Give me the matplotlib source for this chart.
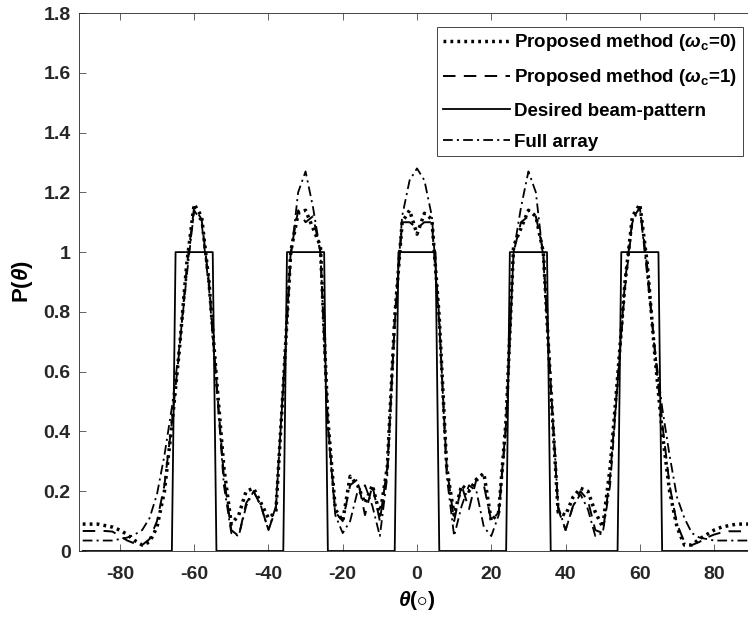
import numpy as np
import matplotlib
matplotlib.use("Agg")
import matplotlib.pyplot as plt
from matplotlib.ticker import FormatStrFormatter

# look-up angles (deg) for the read-off curves, 2 deg spacing
theta = np.arange(-90, 91, 2)

# proposed method, omega_c = 0 (dotted)
p_wc0 = [0.09, 0.09, 0.09, 0.085, 0.08, 0.07, 0.055, 0.035, 0.02, 0.03,
         0.08, 0.20, 0.42, 0.67, 0.96, 1.16, 1.12, 0.90, 0.58, 0.28,
         0.09, 0.12, 0.20, 0.21, 0.16, 0.11, 0.13, 0.55, 1.0, 1.13,
         1.14, 1.08, 1.02, 0.44, 0.14, 0.10, 0.25, 0.22, 0.16, 0.22,
         0.12, 0.28, 0.78, 1.10, 1.14, 1.06, 1.13, 1.11, 0.78, 0.28,
         0.12, 0.22, 0.20, 0.24, 0.26, 0.10, 0.13, 0.44, 1.02, 1.08,
         1.14, 1.12, 1.0, 0.55, 0.13, 0.12, 0.18, 0.21, 0.20, 0.13,
         0.08, 0.28, 0.58, 0.90, 1.12, 1.16, 0.96, 0.66, 0.40, 0.20,
         0.08, 0.02, 0.02, 0.04, 0.055, 0.07, 0.08, 0.085, 0.09, 0.09,
         0.09]

# proposed method, omega_c = 1 (dashed)
p_wc1 = [0.067, 0.067, 0.067, 0.067, 0.065, 0.05, 0.035, 0.025, 0.02, 0.04,
         0.10, 0.22, 0.43, 0.67, 0.95, 1.15, 1.11, 0.90, 0.57, 0.25,
         0.07, 0.05, 0.16, 0.20, 0.15, 0.07, 0.14, 0.56, 1.0, 1.14,
         1.10, 1.12, 1.0, 0.43, 0.13, 0.10, 0.22, 0.24, 0.12, 0.22,
         0.10, 0.28, 0.76, 1.10, 1.10, 1.08, 1.10, 1.10, 0.76, 0.28,
         0.10, 0.22, 0.14, 0.24, 0.22, 0.10, 0.13, 0.43, 1.0, 1.10,
         1.12, 1.12, 1.0, 0.56, 0.14, 0.07, 0.15, 0.20, 0.17, 0.07,
         0.06, 0.25, 0.57, 0.90, 1.11, 1.15, 0.95, 0.67, 0.43, 0.22,
         0.09, 0.03, 0.02, 0.03, 0.045, 0.055, 0.062, 0.066, 0.066, 0.066,
         0.066]

# full array (dash-dot)
p_full = [0.035, 0.035, 0.035, 0.035, 0.035, 0.04, 0.045, 0.055, 0.07, 0.11,
          0.19, 0.32, 0.48, 0.68, 0.92, 1.14, 1.10, 0.88, 0.56, 0.22,
          0.06, 0.05, 0.15, 0.20, 0.15, 0.07, 0.15, 0.55, 0.98, 1.20,
          1.27, 1.15, 1.0, 0.42, 0.12, 0.06, 0.10, 0.20, 0.22, 0.15,
          0.05, 0.25, 0.78, 1.12, 1.24, 1.28, 1.24, 1.12, 0.78, 0.25,
          0.05, 0.15, 0.22, 0.20, 0.08, 0.05, 0.12, 0.42, 1.0, 1.15,
          1.27, 1.20, 0.98, 0.55, 0.15, 0.07, 0.15, 0.19, 0.14, 0.05,
          0.06, 0.22, 0.56, 0.88, 1.10, 1.15, 0.92, 0.68, 0.48, 0.32,
          0.18, 0.11, 0.06, 0.045, 0.04, 0.035, 0.035, 0.035, 0.035, 0.035,
          0.035]

# desired beam-pattern: unit gain inside these sectors (1 deg grid)
beam_lo = [-65, -35, -5, 25, 55]
beam_hi = [-55, -25, 5, 35, 65]
theta_d = np.arange(-90, 91, 1)
desired = np.zeros(len(theta_d))
for lo, hi in zip(beam_lo, beam_hi):
    desired[(theta_d >= lo) & (theta_d <= hi)] = 1.0

plt.rcParams['font.family'] = ['Liberation Sans', 'DejaVu Sans']
plt.rcParams['font.weight'] = 'bold'
plt.rcParams['font.size'] = 14
plt.rcParams['axes.unicode_minus'] = False
plt.rcParams['mathtext.fontset'] = 'custom'
plt.rcParams['mathtext.it'] = 'Liberation Sans:italic:bold'
plt.rcParams['mathtext.rm'] = 'Liberation Sans:bold'
plt.rcParams['mathtext.bf'] = 'Liberation Sans:bold'
plt.rcParams['mathtext.sf'] = 'Liberation Sans:bold'
plt.rcParams['lines.scale_dashes'] = False

gray = '#262626'

fig = plt.figure(figsize=(7.48, 6.21), dpi=100)
ax = fig.add_axes([79 / 748, 70 / 621, 676 / 748, 538 / 621])

ax.plot(theta, p_wc0, color='k', lw=2.5, linestyle=(0, (2.0, 3.0)),
        label=r'Proposed method ($\omega_\mathrm{c}$=0)')
ax.plot(theta, p_wc1, color='k', lw=1.4, linestyle=(0, (9.0, 6.0)),
        label=r'Proposed method ($\omega_\mathrm{c}$=1)')
ax.plot(theta_d, desired, color='k', lw=1.3, linestyle='-',
        label='Desired beam-pattern')
ax.plot(theta, p_full, color='k', lw=1.3, linestyle=(0, (7.0, 3.0, 1.5, 3.0)),
        label='Full array')

ax.set_xlim(-91, 91)
ax.set_ylim(0, 1.8)
ax.set_xticks(np.arange(-80, 81, 20))
ax.set_yticks(np.arange(0, 1.81, 0.2))
ax.yaxis.set_major_formatter(FormatStrFormatter('%g'))

ax.tick_params(direction='in', top=True, right=True, length=5, width=0.5,
               colors=gray, labelsize=14)
ax.tick_params(axis='x', pad=11)
ax.tick_params(axis='y', pad=6)
for s in ax.spines.values():
    s.set_color(gray)
    s.set_linewidth(0.6)

ax.set_xlabel(r'$\theta$($\circ$)', fontsize=15, fontweight='bold', labelpad=4)
ax.set_ylabel(r'P($\theta$)', fontsize=16, fontweight='bold', labelpad=6)

leg = ax.legend(loc='upper right', bbox_to_anchor=(742.7 / 748, 1 - 26.7 / 621),
                bbox_transform=fig.transFigure, borderaxespad=0,
                fancybox=False, framealpha=1, edgecolor=gray,
                handlelength=3.6, handletextpad=0.2, labelspacing=0.75,
                borderpad=0.3, prop={'weight': 'bold', 'size': 13.5})
leg.get_frame().set_linewidth(0.6)

fig.savefig('out.png', dpi=100)
